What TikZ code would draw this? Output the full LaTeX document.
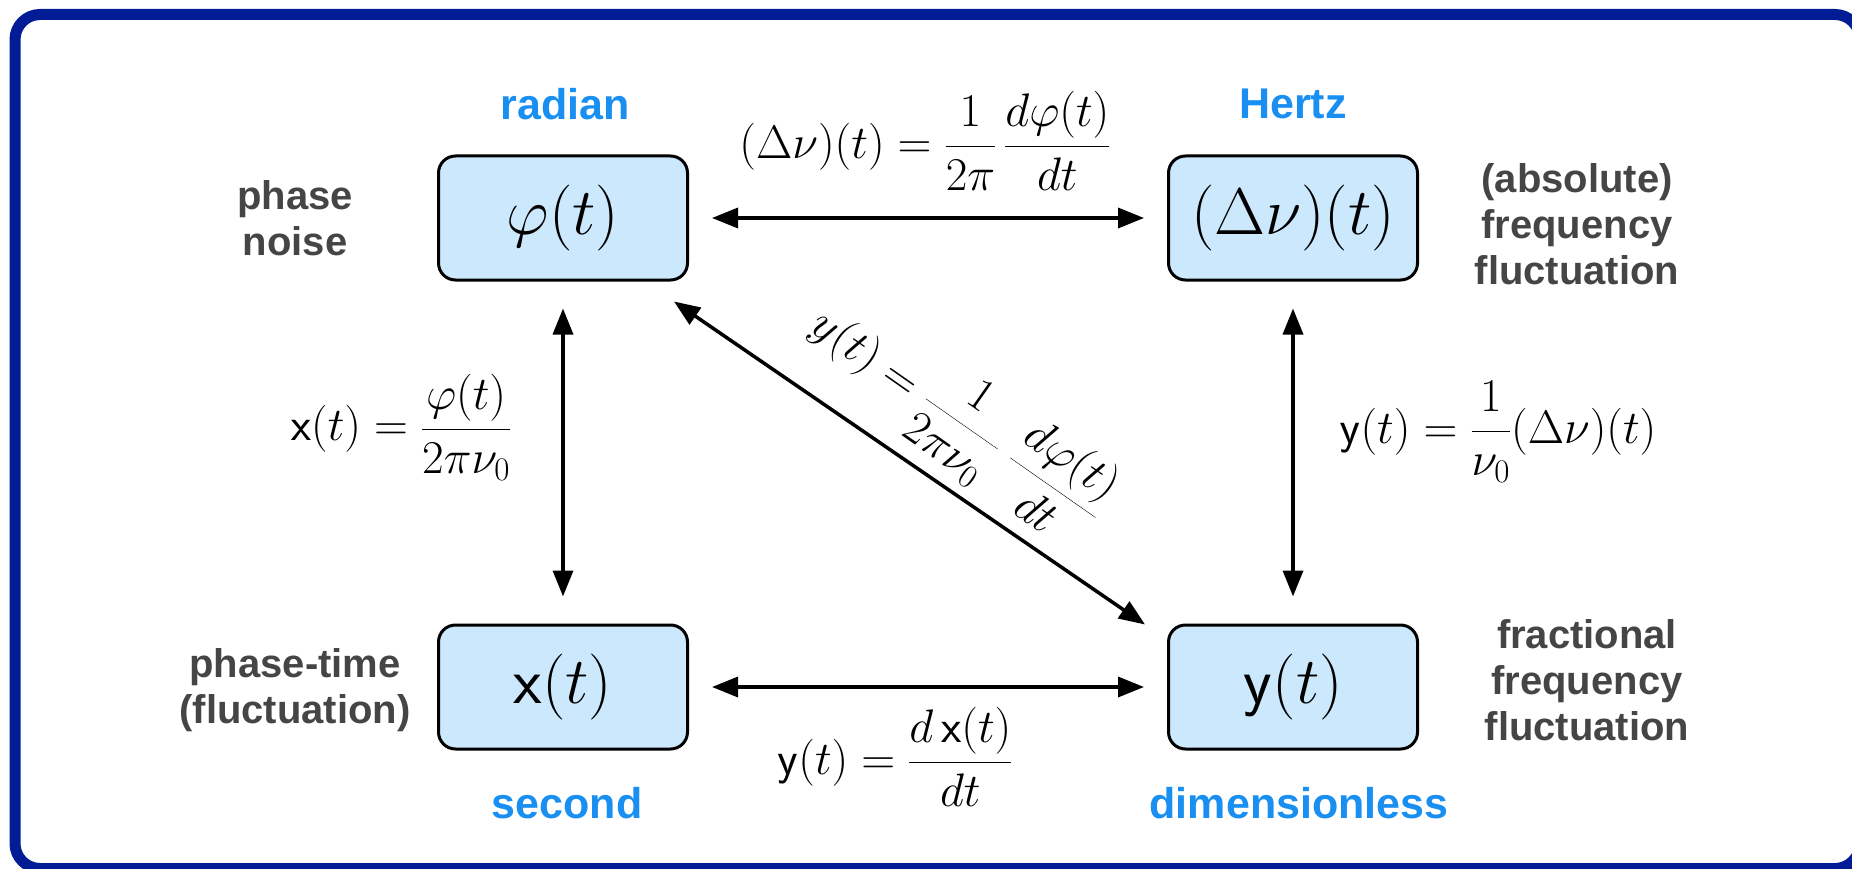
\RequirePackage{fix-cm}
\documentclass[tikz,border=0pt]{standalone}
\usepackage[no-math]{fontspec}
\newfontfamily\labfont{Liberation Sans}
\usetikzlibrary{arrows.meta,calc}
\definecolor{frameblue}{HTML}{021C96}
\definecolor{boxfill}{HTML}{CCE8FD}
\definecolor{unitblue}{HTML}{1A8FF2}
\definecolor{labgray}{HTML}{454545}
\begin{document}
\begin{tikzpicture}[x=1pt,y=-1pt,
  qbox/.style={draw=black, line width=3pt, fill=boxfill, rounded corners=17pt,
    minimum width=249pt, minimum height=124pt, inner sep=0pt,
    font=\fontsize{66}{70}\selectfont},
  unit/.style={text=unitblue, inner sep=0pt, font=\labfont\bfseries\fontsize{43}{50}\selectfont},
  desc/.style={text=labgray, align=center, inner sep=0pt, font=\labfont\bfseries\fontsize{40}{46}\selectfont},
  eq/.style={font=\fontsize{47}{54}\selectfont, inner sep=0pt},
  conn/.style={line width=3.5pt, {Triangle[length=26pt,width=20pt]}-{Triangle[length=26pt,width=20pt]}}
]
\useasboundingbox (0,0) rectangle (1852,869);
\clip (0,0) rectangle (1852,869);
\draw[frameblue, line width=11pt, rounded corners=25pt] (15,14.5) rectangle (1860,868.5);

\node[qbox] (phi) at (563,218) {$\varphi(t)$};
\node[qbox] (dnu) at (1293,218) {$(\Delta\nu)(t)$};
\node[qbox] (x) at (563,687) {$\mathsf{x}(t)$};
\node[qbox] (y) at (1293,687) {$\mathsf{y}(t)$};

\draw[conn, shorten <=23pt, shorten >=23pt] (phi) -- (dnu);
\draw[conn, shorten <=23pt, shorten >=23pt] (x) -- (y);
\draw[conn, shorten <=27pt, shorten >=27pt] (phi) -- (x);
\draw[conn, shorten <=27pt, shorten >=27pt] (dnu) -- (y);
\coordinate (dA) at ($(phi.south east)+(-15,20)$);
\coordinate (dB) at ($(y.north west)+(-22,1)$);
\draw[conn] (dA) -- (dB);

\node[eq] (eqtop) at (925,141) {$\displaystyle (\Delta\nu)(t) = \frac{1}{2\pi}\,\frac{d\varphi(t)}{dt}$};
\node[eq] (eqleft) at (401,427) {$\displaystyle \mathsf{x}(t) = \frac{\varphi(t)}{2\pi\nu_0}$};
\node[eq] (eqright) at (1498,432) {$\displaystyle \mathsf{y}(t) = \frac{1}{\nu_0}(\Delta\nu)(t)$};
\node[eq] (eqbot) at (895,757) {$\displaystyle \mathsf{y}(t) = \frac{d\,\mathsf{x}(t)}{dt}$};
\node[eq, rotate=-35] (eqdiag) at (957,418) {$\displaystyle y(t) = \frac{1}{2\pi\nu_0}\;\frac{d\varphi(t)}{dt}$};

\node[unit] (ur) at (565,104) {radian};
\node[unit] (uh) at (1293,104) {Hertz};
\node[unit] (us) at (567,803) {second};
\node[unit] (ud) at (1299,803) {dimensionless};

\node[desc] (dp) at (295,218) {phase\\noise};
\node[desc] (da) at (1577,224) {(absolute)\\frequency\\fluctuation};
\node[desc] (dt) at (295,690) {phase-time\\(fluctuation)};
\node[desc] (df) at (1587,680) {fractional\\frequency\\fluctuation};
\end{tikzpicture}
\end{document}
